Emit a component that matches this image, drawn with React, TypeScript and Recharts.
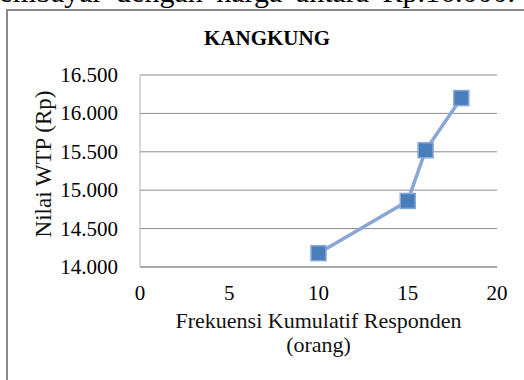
import React from 'react';
import { LineChart, Line, XAxis, YAxis, CartesianGrid, Label } from 'recharts';

const responden = [10, 15, 16, 18];
const nilaiWTP = [14180, 14860, 15520, 16200];
const xTicks = [0, 5, 10, 15, 20];
const yTicks = [14000, 14500, 15000, 15500, 16000, 16500];
const chartTitle = 'KANGKUNG';
const xTitle1 = 'Frekuensi Kumulatif Responden';
const xTitle2 = '(orang)';
const yTitle = 'Nilai WTP (Rp)';
const topText = 'membayar dengan harga antara Rp.16.000.';

const data = responden.map((r, i) => ({ x: r, y: nilaiWTP[i] }));

const FONT = '"Liberation Serif", "Times New Roman", serif';
const textStyle = { fontFamily: FONT };

const fmt = (v: number) => {
  const s = String(v);
  return s.slice(0, s.length - 3) + '.' + s.slice(s.length - 3);
};

const SquareDot = (props: any) => {
  const { cx, cy, index } = props;
  if (cx == null || cy == null) return null;
  const s = 15;
  return (
    <rect
      key={`d${index}`}
      x={cx - s / 2}
      y={cy - s / 2}
      width={s}
      height={s}
      fill="#4A7EBB"
      stroke="#86A8D8"
      strokeWidth={1.5}
    />
  );
};

const XTick = (props: any) => {
  const { x, y, payload } = props;
  return (
    <text x={x} y={y + 33} textAnchor="middle" fontSize={21} fill="#000" style={textStyle}>
      {payload.value}
    </text>
  );
};

const YTick = (props: any) => {
  const { x, y, payload } = props;
  return (
    <text x={x - 22} y={y + 7} textAnchor="end" fontSize={21} fill="#000" style={textStyle}>
      {fmt(payload.value)}
    </text>
  );
};

const XTitle = (props: any) => {
  const vb = props.viewBox || {};
  const cx = vb.x + vb.width / 2;
  return (
    <text textAnchor="middle" fontSize={22} fill="#111" style={textStyle}>
      <tspan x={cx} y={vb.y + 61}>{xTitle1}</tspan>
      <tspan x={cx} y={vb.y + 85}>{xTitle2}</tspan>
    </text>
  );
};

const YTitle = (props: any) => {
  const vb = props.viewBox || {};
  const x = 51;
  const y = vb.y + vb.height / 2 - 7;
  return (
    <text
      x={x}
      y={y}
      textAnchor="middle"
      fontSize={23}
      fill="#111"
      style={textStyle}
      transform={`rotate(-90 ${x} ${y})`}
    >
      {yTitle}
    </text>
  );
};

export default function App() {
  return (
    <div style={{ position: 'absolute', left: 0, top: 0, width: 524, height: 380, overflow: 'hidden', background: '#fff' }}>
      <div
        style={{
          position: 'absolute',
          left: -24,
          top: -23,
          whiteSpace: 'nowrap',
          fontFamily: FONT,
          fontSize: 30,
          wordSpacing: 6,
          color: '#000',
          lineHeight: '30px',
        }}
      >
        {topText}
      </div>
      <div
        style={{
          position: 'absolute',
          left: 6,
          top: 9,
          width: 560,
          height: 420,
          border: '2px solid #8a8a8a',
          boxSizing: 'border-box',
        }}
      />
      <div
        style={{
          position: 'absolute',
          left: 0,
          width: 534,
          top: 26,
          textAlign: 'center',
          fontFamily: FONT,
          fontWeight: 'bold',
          fontSize: 21,
          lineHeight: '24px',
          color: '#000',
        }}
      >
        {chartTitle}
      </div>
      <div style={{ position: 'absolute', left: 0, top: 0 }}>
        <LineChart width={524} height={380} data={data} margin={{ top: 75, right: 27, left: 0, bottom: 0 }}>
          <CartesianGrid horizontal vertical={false} stroke="#8c8c8c" strokeWidth={1} />
          <XAxis
            dataKey="x"
            type="number"
            domain={[0, 20]}
            ticks={xTicks}
            height={113}
            tickSize={0}
            tickMargin={0}
            axisLine={{ stroke: '#8c8c8c' }}
            tick={<XTick />}
          >
            <Label content={<XTitle />} />
          </XAxis>
          <YAxis
            dataKey="y"
            type="number"
            domain={[14000, 16500]}
            ticks={yTicks}
            width={140}
            tickSize={0}
            tickMargin={0}
            axisLine={{ stroke: '#b0b0b0' }}
            tick={<YTick />}
          >
            <Label content={<YTitle />} />
          </YAxis>
          <Line
            type="linear"
            dataKey="y"
            stroke="#8AA6D6"
            strokeWidth={3.5}
            dot={<SquareDot />}
            activeDot={false}
            isAnimationActive={false}
          />
        </LineChart>
      </div>
    </div>
  );
}
